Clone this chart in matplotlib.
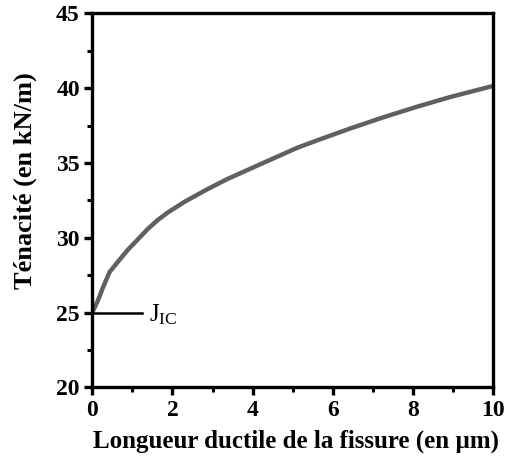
import matplotlib
matplotlib.use("Agg")
import matplotlib.pyplot as plt
from matplotlib.ticker import MultipleLocator

plt.rcParams['font.family'] = ['Liberation Serif', 'DejaVu Serif']
plt.rcParams['mathtext.fontset'] = 'custom'
plt.rcParams['mathtext.rm'] = 'Liberation Serif'

# courbe de résistance J-R
longueur = [0.0, 0.14, 0.27, 0.43, 0.64, 0.89, 1.14, 1.39, 1.64, 1.89, 2.30,
            2.84, 3.35, 4.18, 5.10, 5.60, 6.43, 7.26, 8.09, 8.92, 10.0]
tenacite = [25.0, 25.8, 26.7, 27.7, 28.4, 29.2, 29.9, 30.6, 31.2, 31.7, 32.4,
            33.2, 33.9, 34.9, 36.0, 36.5, 37.3, 38.05, 38.75, 39.4, 40.15]
jic = 25.0

fig = plt.figure(figsize=(5.09, 4.61), dpi=100)
ax = fig.add_axes([0.1813, 0.1598, 0.7878, 0.8113])

ax.plot(longueur, tenacite, color='#606060', lw=3.2, solid_capstyle='butt')
ax.plot([0, 1.23], [jic, jic], color='black', lw=1.8)
ax.text(1.42, 24.4, r'$\mathregular{J_{IC}}$', fontsize=18, va='baseline', ha='left')

ax.set_xlim(0, 10)
ax.set_ylim(20, 45)
ax.xaxis.set_major_locator(MultipleLocator(2))
ax.xaxis.set_minor_locator(MultipleLocator(1))
ax.yaxis.set_major_locator(MultipleLocator(5))
ax.yaxis.set_minor_locator(MultipleLocator(2.5))

for s in ax.spines.values():
    s.set_linewidth(2.4)
ax.tick_params(which='major', direction='out', length=6, width=2.4,
               labelsize=17, pad=3)
ax.tick_params(which='minor', direction='out', length=3.5, width=2.2)
for lab in ax.get_xticklabels() + ax.get_yticklabels():
    lab.set_fontweight('bold')

ax.set_xlabel('Longueur ductile de la fissure (en µm)', fontsize=18, fontweight='bold')
ax.set_ylabel('Ténacité (en kN/m)', fontsize=19, fontweight='bold')
ax.xaxis.label.set_va('center')
ax.yaxis.label.set_va('center')
ax.xaxis.set_label_coords(0.509, -0.144)
ax.yaxis.set_label_coords(-0.168, 0.554)

fig.savefig('out.png', dpi=100)
